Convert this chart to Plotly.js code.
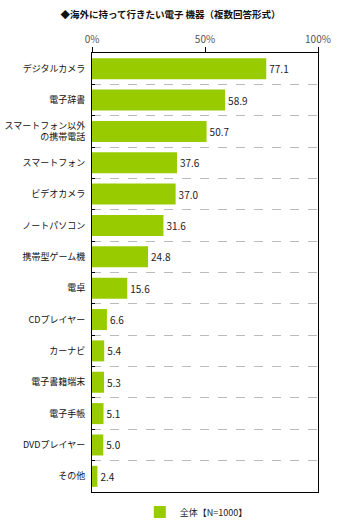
<!DOCTYPE html>
<html>
<head>
<meta charset="utf-8">
<script src="https://cdn.plot.ly/plotly-3.0.1.min.js"></script>
<style>html,body{margin:0;padding:0;background:#fff;}#chart{width:341px;height:523px;}</style>
</head>
<body>
<div id="chart"></div>
<script>
var categories = ["デジタルカメラ","電子辞書","スマートフォン以外<br>の携帯電話","スマートフォン","ビデオカメラ","ノートパソコン","携帯型ゲーム機","電卓","CDプレイヤー","カーナビ","電子書籍端末","電子手帳","DVDプレイヤー","その他"];
var values = [77.1,58.9,50.7,37.6,37.0,31.6,24.8,15.6,6.6,5.4,5.3,5.1,5.0,2.4];
var seriesName = "全体【N=1000】";
var tickVals = [0,50,100];
var tickText = ["0%","50%","100%"];
var font = "'Noto Sans CJK JP', 'Noto Sans', sans-serif";

var trace = {
  type: 'bar',
  orientation: 'h',
  x: values,
  y: categories,
  name: seriesName,
  marker: {color: '#99cc00'},
  text: values.map(function(v){return v.toFixed(1);}),
  textposition: 'outside',
  textfont: {family: font, size: 10, color: '#222'},
  cliponaxis: false,
  hoverinfo: 'none'
};

var layout = {
  width: 341, height: 523,
  margin: {l: 92, r: 23, t: 53, b: 31},
  paper_bgcolor: '#fff', plot_bgcolor: '#fff',
  font: {family: font, size: 9, color: '#222'},
  title: {text: "◆海外に持って行きたい電子 機器（複数回答形式）", x: 0.5, xanchor: 'center', y: 0.972, yanchor: 'middle', font: {family: font, size: 9.5, color: '#111', weight: 'bold'}},
  bargap: 0.33,
  showlegend: true,
  legend: {orientation: 'h', xref: 'container', yref: 'container', x: 0.41, xanchor: 'left', y: 0.021, yanchor: 'middle', font: {family: font, size: 9, color: '#222'}, itemwidth: 30},
  xaxis: {
    side: 'top', range: [0, 100], tickvals: tickVals, ticktext: tickText,
    ticks: 'outside', ticklen: 5, tickcolor: '#000', tickwidth: 1,
    showline: true, linecolor: '#000', linewidth: 1, mirror: true,
    showgrid: false, zeroline: false,
    tickfont: {family: font, size: 10, color: '#555'}
  },
  yaxis: {
    autorange: 'reversed', type: 'category',
    tickson: 'boundaries', ticks: 'inside', ticklen: 3, tickcolor: '#000',
    showgrid: true, gridcolor: '#bbbbbb', griddash: 'dash', gridwidth: 1,
    showline: true, linecolor: '#000', linewidth: 1, mirror: true,
    tickfont: {family: font, size: 9, color: '#111'},
    ticklabelstandoff: 4
  }
};

Plotly.newPlot('chart', [trace], layout, {displayModeBar: false, staticPlot: true});
</script>
</body>
</html>
